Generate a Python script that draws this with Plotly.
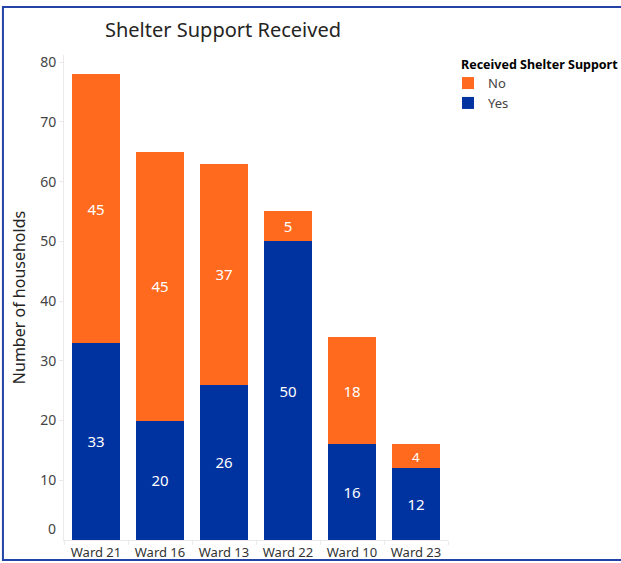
import plotly.graph_objects as go

# Households per ward, split by whether shelter support was received
wards = ["Ward 21", "Ward 16", "Ward 13", "Ward 22", "Ward 10", "Ward 23"]
received_yes = [33, 20, 26, 50, 16, 12]
received_no = [45, 45, 37, 5, 18, 4]
y_ticks = [10, 20, 30, 40, 50, 60, 70, 80]

ORANGE = "#FF6A1F"
BLUE = "#0033A0"
FONT = "Noto Sans"

fig = go.Figure()
fig.add_trace(go.Bar(
    x=wards, y=received_yes, name="Yes", marker=dict(color=BLUE, line=dict(width=0)),
    texttemplate="%{y}", textposition="inside", insidetextanchor="middle",
    textfont=dict(family=FONT, size=15, color="white"), textangle=0,
))
fig.add_trace(go.Bar(
    x=wards, y=received_no, name="No", marker=dict(color=ORANGE, line=dict(width=0)),
    texttemplate="%{y}", textposition="inside", insidetextanchor="middle",
    textfont=dict(family=FONT, size=15, color="white"), textangle=0,
))

# Axis zero label sits a little above the baseline
fig.add_annotation(
    text="0", xref="paper", x=0, y=0, yref="y", xanchor="right", yanchor="middle",
    xshift=-6, yshift=12, showarrow=False,
    font=dict(family=FONT, size=14, color="#444444"),
)

# Legend heading
fig.add_annotation(
    text="<b>Received Shelter Support</b>", xref="paper", yref="paper",
    x=1.029, y=0.981, xanchor="left", yanchor="middle", showarrow=False,
    font=dict(family=FONT, size=12.5, color="#000000"),
)

# Frame around the visual (open on the right)
fig.add_shape(
    type="path", xref="paper", yref="paper",
    path="M 1.6 1.099 L -0.159 1.099 L -0.159 -0.0412 L 1.6 -0.0412",
    line=dict(color="#2443A6", width=2),
)

fig.update_layout(
    width=621, height=563,
    margin=dict(l=64, r=173, t=55, b=23, autoexpand=False),
    paper_bgcolor="white", plot_bgcolor="white",
    barmode="stack", bargap=0.25,
    font=dict(family=FONT, color="#333333"),
    title=dict(
        text="Shelter Support Received", xref="container", yref="container",
        x=105 / 621, xanchor="left", y=1 - 30 / 563, yanchor="middle",
        font=dict(family=FONT, size=20, color="#252423"),
    ),
    legend=dict(
        x=1.0, xanchor="left", y=0.973, yanchor="top",
        traceorder="reversed", font=dict(family=FONT, size=13, color="#444444"),
        itemsizing="constant", tracegroupgap=0,
    ),
    xaxis=dict(
        showgrid=False, showline=True, linecolor="#EAEAEA", linewidth=1,
        ticks="outside", tickson="boundaries", ticklen=4, tickcolor="#EAEAEA",
        tickfont=dict(family=FONT, size=13, color="#333333"), automargin=False,
    ),
    yaxis=dict(
        range=[0, 81.2], tickvals=y_ticks, showgrid=False, zeroline=False,
        showline=True, linecolor="#EAEAEA", linewidth=1,
        ticks="outside", ticklen=4, tickcolor="#EAEAEA",
        tickfont=dict(family=FONT, size=14, color="#444444"),
        title=dict(text="Number of households", standoff=10,
                   font=dict(family=FONT, size=16, color="#252423")),
        automargin=False,
    ),
)

fig.write_html("out.html")
